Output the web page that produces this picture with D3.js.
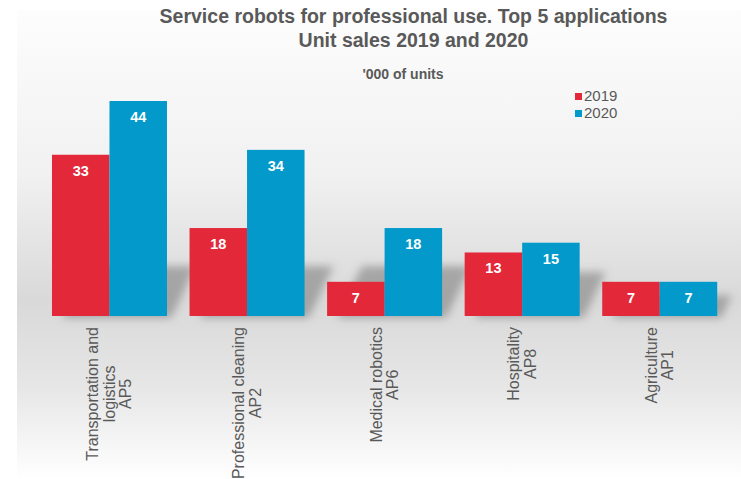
<!DOCTYPE html>
<html>
<head>
<meta charset="utf-8">
<script src="https://cdn.jsdelivr.net/npm/d3@7"></script>
<style>
  html, body { margin: 0; padding: 0; background: #ffffff; }
  svg { display: block; font-family: "Liberation Sans", Arial, sans-serif; }
</style>
</head>
<body>
<svg id="chart" width="741" height="479"></svg>
<script>
// Unit sales of professional service robots, thousands of units
const categories = [
  ["Transportation and", "logistics", "AP5"],
  ["Professional cleaning", "AP2"],
  ["Medical robotics", "AP6"],
  ["Hospitality", "AP8"],
  ["Agriculture", "AP1"]
];
const seriesNames = ["2019", "2020"];
const sales2019 = [33, 18, 7, 13, 7];
const sales2020 = [44, 34, 18, 15, 7];
const titleLines = ["Service robots for professional use. Top 5 applications", "Unit sales 2019 and 2020"];
const unitNote = "'000 of units";

const colors = { "2019": "#e3283a", "2020": "#0399ca" };
const textGray = "#595959";

const W = 741, H = 479;
const svg = d3.select("#chart");
const defs = svg.append("defs");

// backdrop: soft vertical gradient, darkest around the floor line
const bg = defs.append("linearGradient").attr("id", "bg").attr("x1", 0).attr("y1", 0).attr("x2", 0).attr("y2", 1);
[[0, "#fdfdfd"], [0.35, "#f1f1f1"], [0.62, "#d9d9d9"], [0.8, "#e6e6e6"], [1, "#ffffff"]]
  .forEach(([o, c]) => bg.append("stop").attr("offset", o).attr("stop-color", c));
svg.append("rect").attr("x", 17).attr("y", 10).attr("width", W - 17).attr("height", H - 10).attr("fill", "url(#bg)");

const blur = defs.append("filter").attr("id", "shadowBlur").attr("x", "-50%").attr("y", "-50%").attr("width", "200%").attr("height", "200%");
blur.append("feGaussianBlur").attr("stdDeviation", 4);

const rows = categories.map((c, i) => ({ lines: c, v2019: sales2019[i], v2020: sales2020[i], key: c.join(" ") }));

const x0 = d3.scaleBand().domain(rows.map(d => d.key)).range([40.7, 728.5]).paddingInner(0.164).paddingOuter(0.082);
const x1 = d3.scaleBand().domain(seriesNames).range([0, x0.bandwidth()]).padding(0);
const y = d3.scaleLinear().domain([0, 44]).range([316, 101]);

// cast shadows behind each pair of bars
const shadowG = svg.append("g").attr("filter", "url(#shadowBlur)");
rows.forEach(d => {
  const left = x0(d.key) + 10;
  const right = x0(d.key) + x0.bandwidth();
  const tall = y(0) - y(Math.max(d.v2019, d.v2020));
  const s = Math.min(tall * 0.6, 50);
  const base = y(0);
  shadowG.append("polygon")
    .attr("points", [[left, base + 2], [right + 4, base + 2], [right + 4 + s * 0.5, base - s], [left + s * 0.5, base - s]].map(p => p.join(",")).join(" "))
    .attr("fill", "#777777").attr("opacity", 0.55);
});

// bars
const groups = svg.append("g").selectAll("g").data(rows).join("g")
  .attr("transform", d => `translate(${x0(d.key)},0)`);
const bars = groups.selectAll("g").data(d => seriesNames.map(s => ({ s, v: s === "2019" ? d.v2019 : d.v2020 }))).join("g");
bars.append("rect")
  .attr("x", b => x1(b.s)).attr("width", x1.bandwidth())
  .attr("y", b => y(b.v)).attr("height", b => y(0) - y(b.v))
  .attr("fill", b => colors[b.s]);
bars.append("text")
  .attr("x", b => x1(b.s) + x1.bandwidth() / 2).attr("y", b => y(b.v) + 21)
  .attr("text-anchor", "middle").attr("fill", "#ffffff")
  .attr("font-weight", "bold").attr("font-size", 14.5)
  .text(b => b.v);

// category labels, rotated and centre-aligned under each group
const labelTop = 327, lineH = 16.5;
rows.forEach(d => {
  const g = svg.append("g");
  const t = g.append("text").attr("font-size", 16).attr("fill", textGray).attr("text-anchor", "middle");
  const spans = d.lines.map((ln, i) => t.append("tspan").attr("x", 0)
    .attr("y", (i - (d.lines.length - 1) / 2) * lineH + 5.5).text(ln));
  const maxLen = d3.max(spans, sp => sp.node().getComputedTextLength());
  g.attr("transform", `translate(${x0(d.key) + x0.bandwidth() / 2},${labelTop + maxLen / 2}) rotate(-90)`);
});

// titles
const title = svg.append("g").attr("fill", textGray).attr("font-weight", "bold").attr("text-anchor", "middle");
title.append("text").attr("x", 413.5).attr("y", 23).attr("font-size", 19.5).text(titleLines[0]);
title.append("text").attr("x", 413.5).attr("y", 47).attr("font-size", 19.5).text(titleLines[1]);
title.append("text").attr("x", 403).attr("y", 79).attr("font-size", 14).text(unitNote);

// legend
const legend = svg.append("g").selectAll("g").data(seriesNames).join("g")
  .attr("transform", (s, i) => `translate(575,${93 + i * 17})`);
legend.append("rect").attr("width", 7).attr("height", 7).attr("fill", s => colors[s]);
legend.append("text").attr("x", 9).attr("y", 8).attr("font-size", 15).attr("fill", textGray).text(s => s);
</script>
</body>
</html>
